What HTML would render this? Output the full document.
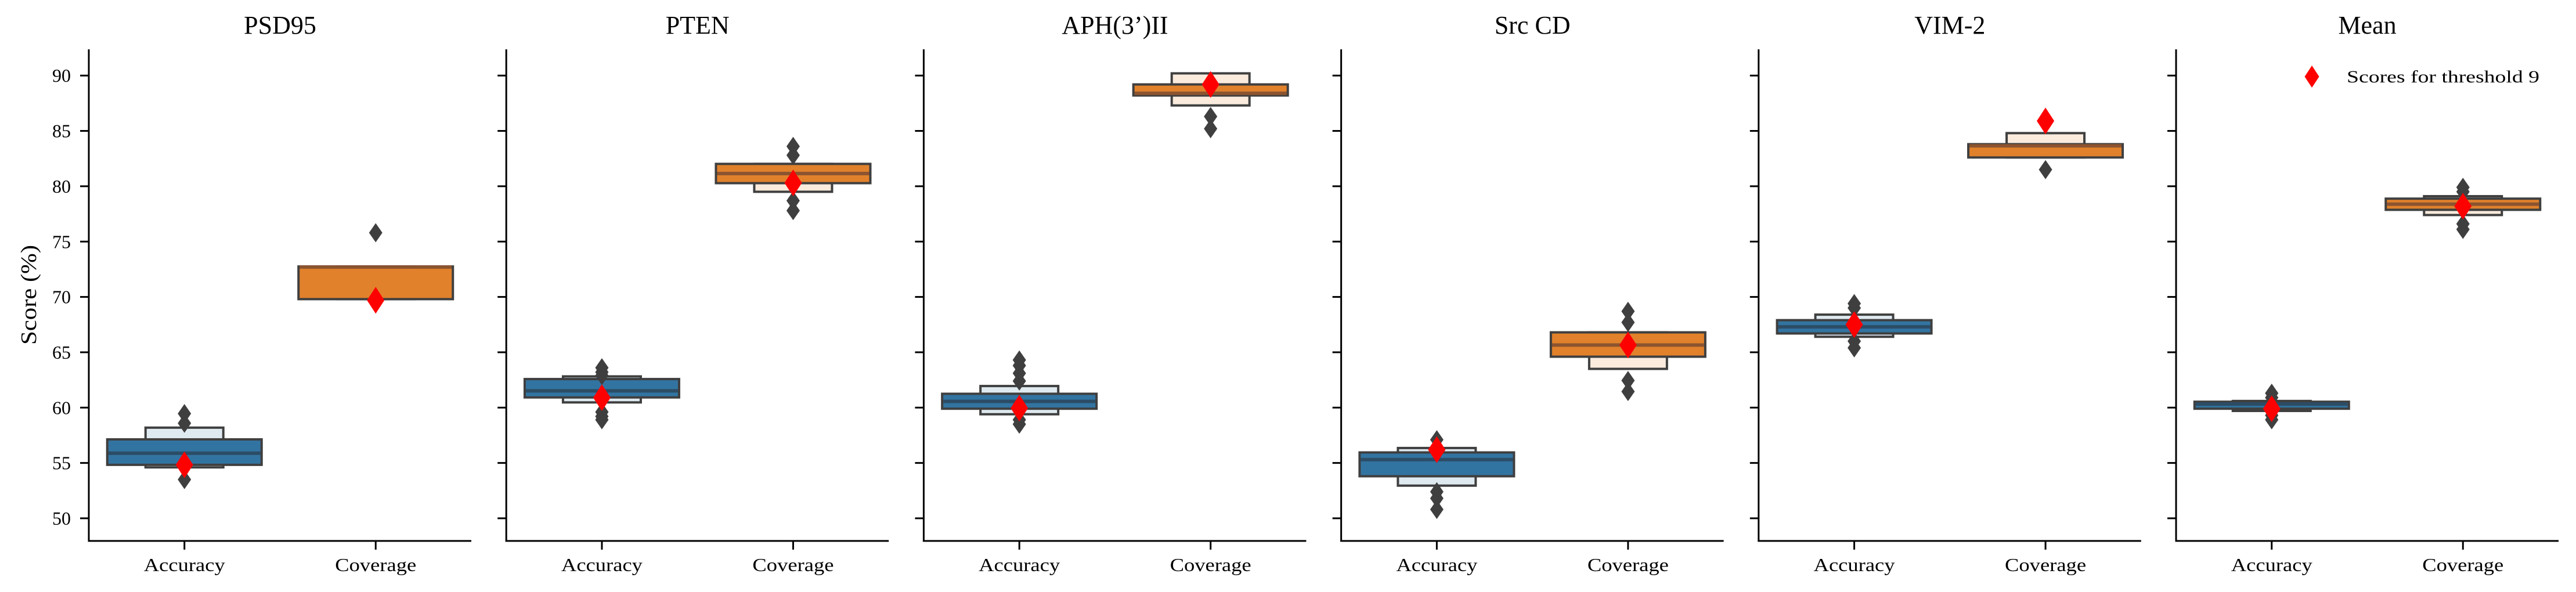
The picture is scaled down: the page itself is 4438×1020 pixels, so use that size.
<!DOCTYPE html>
<html><head><meta charset="utf-8"><style>
html,body{margin:0;padding:0;background:#fff;}
svg{display:block;}
text{font-family:"Liberation Serif",serif;fill:#000;}
</style></head><body>
<svg id="chart" width="4438" height="1020" viewBox="0 0 4438 1020" xmlns="http://www.w3.org/2000/svg"></svg>
<script>
const panels = ["PSD95","PTEN","APH(3\u2019)II","Src CD","VIM-2","Mean"];
const categories = ["Accuracy","Coverage"];
const yTicks = [50,55,60,65,70,75,80,85,90];
// Accuracy
const accQ1 = [54.83,60.92,59.9,53.8,66.7,59.9];
const accQ3 = [57.13,62.58,61.25,55.95,67.9,60.53];
const accMed = [55.88,61.52,60.56,55.3,67.3,60.32];
const accLo = [54.6,60.47,59.4,52.95,66.4,59.7];
const accHi = [58.19,62.82,61.95,56.35,68.4,60.6];
const accOut = [[59.46,58.59,53.5],[63.6,63.2,62.9,59.6,59.2,58.9],[64.3,63.8,63.1,62.4,58.9,58.5],[57.1,52.4,51.8,50.8],[69.4,69.0,66.0,65.4],[61.3,60.9,59.3,58.9]];
const accRed = [54.83,60.9,59.96,56.2,67.5,59.9];
// Coverage
const covQ1 = [69.8,80.28,88.2,64.6,82.6,77.87];
const covQ3 = [72.75,82.02,89.2,66.8,83.8,78.88];
const covMed = [72.7,81.15,88.4,65.65,83.65,78.38];
const covLo = [69.8,79.5,87.3,63.5,82.6,77.4];
const covHi = [72.75,82.02,90.2,66.8,84.8,79.1];
const covOut = [[75.8],[83.6,82.8,78.7,77.8],[86.3,85.2],[68.7,67.7,62.45,61.45],[81.5],[79.9,79.5,76.6,76.1]];
const covRed = [69.7,80.3,89.2,65.65,85.9,78.2];

const NS="http://www.w3.org/2000/svg";
const svg=document.getElementById('chart');
function mk(tag,attrs,parent){const e=document.createElementNS(NS,tag);for(const k in attrs)e.setAttribute(k,attrs[k]);(parent||svg).appendChild(e);return e;}
const x0=153, dx=719.2, pw=659, yTop=85, yBot=932;
function yS(v){return 893-(v-50)*19.07;}
function xS(p,c){return x0+p*dx+pw*(0.25+0.5*c);}
function diamond(cx,cy,w,h){return `M${cx},${cy-h/2} L${cx+w/2},${cy} L${cx},${cy+h/2} L${cx-w/2},${cy} Z`;}
const fills=[["#3274a1","#dfe9f0","#2c4d66"],["#e1812c","#faebdd","#8c5430"]];

panels.forEach((name,p)=>{
  const g=mk('g',{});
  
  
  const ax=x0+p*dx;
  const t=mk('text',{x:ax+pw/2,y:58,'font-size':44,'text-anchor':'middle'},g);
  t.textContent=name;
  
  
  const yl=mk('line',{x1:ax,y1:yTop,x2:ax,y2:yBot+1.5,stroke:'#000','stroke-width':3},g);
  
  
  const xl=mk('line',{x1:ax-1.5,y1:yBot,x2:ax+pw,y2:yBot,stroke:'#000','stroke-width':3},g);
  
  
  yTicks.forEach(v=>{
    const tk=mk('line',{x1:ax-15,y1:yS(v),x2:ax,y2:yS(v),stroke:'#000','stroke-width':3},g);
    
    
    if(p===0){
      const tl=mk('text',{x:122,y:yS(v)+11,'font-size':32,'text-anchor':'end'},g);
      tl.textContent=String(v);
      
      
    }
  });
  categories.forEach((c,ci)=>{
    const cx=xS(p,ci);
    const tk=mk('line',{x1:cx,y1:yBot,x2:cx,y2:yBot+15,stroke:'#000','stroke-width':3},g);
    
    
    const tl=mk('text',{x:cx,y:984,'font-size':32,'text-anchor':'middle',textLength:140,lengthAdjust:'spacingAndGlyphs'},g);
    tl.textContent=c;
    
    
    const q1=ci?covQ1[p]:accQ1[p], q3=ci?covQ3[p]:accQ3[p], med=ci?covMed[p]:accMed[p];
    const lo=ci?covLo[p]:accLo[p], hi=ci?covHi[p]:accHi[p];
    const outs=ci?covOut[p]:accOut[p], red=ci?covRed[p]:accRed[p];
    const col=fills[ci];
    const lb=mk('rect',{x:cx-67,y:yS(hi),width:134,height:yS(lo)-yS(hi),fill:col[1],stroke:'#3f3f3f','stroke-width':4},g);
    
    
    const mb=mk('rect',{x:cx-133,y:yS(q3),width:266,height:yS(q1)-yS(q3),fill:col[0],stroke:'#3f3f3f','stroke-width':4},g);
    
    
    const ml=mk('line',{x1:cx-131,y1:yS(med),x2:cx+131,y2:yS(med),stroke:col[2],'stroke-width':6},g);
    
    
    outs.forEach(v=>{
      const o=mk('path',{d:diamond(cx,yS(v),23,33),fill:'#3f3f3f'},g);
      
      
    });
    const r=mk('path',{d:diamond(cx,yS(red),30,46),fill:'#ff0000'},g);
    
    
  });
});
const ylab=mk('text',{x:0,y:0,'font-size':38,'text-anchor':'middle',transform:'translate(62,508) rotate(-90)',textLength:172,lengthAdjust:'spacingAndGlyphs'});
ylab.textContent='Score (%)';


const lg=mk('g',{});


const lm=mk('path',{d:diamond(3983,132,25,38),fill:'#ff0000'},lg);


const lt=mk('text',{x:4043,y:142,'font-size':30,textLength:332,lengthAdjust:'spacingAndGlyphs'},lg);
lt.textContent='Scores for threshold 9';


</script>
</body></html>
